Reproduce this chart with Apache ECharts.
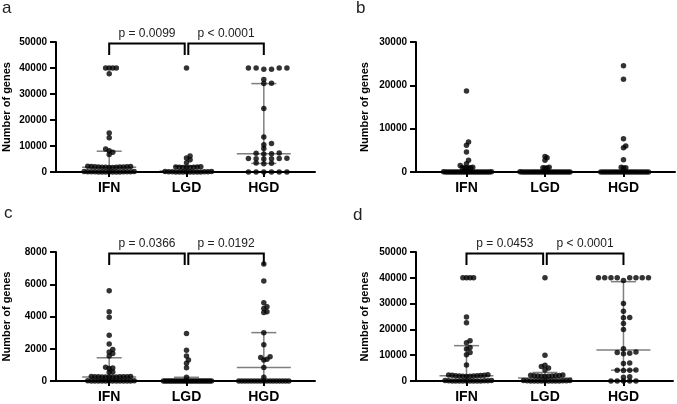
<!DOCTYPE html>
<html><head><meta charset="utf-8">
<script src="https://cdn.jsdelivr.net/npm/echarts@6/dist/echarts.min.js"></script>
<style>html,body{margin:0;padding:0;background:#fff}#c{width:677px;height:404px}</style>
</head><body><div id="c"></div>
<script>
// ---------- DATA ----------
const categories = ['IFN', 'LGD', 'HGD'];

// panel a
const aIFN = [40000,40000,40000,40000,37800,15000,13200,8800,8200,7600,6700,
  2200,2100,2100,2000,2000,1900,1900,1900,1800,1800,1800,1700,1700,
  200,200,100,100,100,100,50,50,0,0,0,0,0,0,0];
const aLGD = [40000,6200,5400,4700,3600,
  2000,1900,1900,1800,1800,1700,1700,1700,
  200,200,100,100,100,50,0,0,0,0,0,0,0,0];
const aHGD = [40000,40000,40000,40000,39500,39500,35600,34100,34000,24400,13500,11000,10500,9000,
  7300,7200,7000,6900,5300,5200,5200,5100,5100,5000,3500,3400,3200,0,0,0,0,0,0];
const aStats = [[200,1800,8000],[0,400,2200],[3300,7000,34000]]; // [q1, median, q3]
const aPvals = ['p = 0.0099', 'p < 0.0001'];

// panel b
const bIFN = [18700,6900,6200,4600,2700,1900,1500,1100,1000,1000,950,950,900,
  50,50,0,0,0,0,0,0,0,0,0,0,0,0,0,0,0,0,0,0,0,0,0,0];
const bLGD = [3600,3300,2700,1100,1000,950,900,50,
  0,0,0,0,0,0,0,0,0,0,0,0,0,0,0,0,0,0,0,0,0,0,0,0];
const bHGD = [24500,21400,7700,6000,5600,2850,1100,1000,900,
  0,0,0,0,0,0,0,0,0,0,0,0,0,0,0,0,0,0,0,0,0,0];
const bStats = [[0,0,300],[0,0,300],[0,0,300]];
const bPvals = [];

// panel c
const cIFN = [5600,4300,3950,2830,2300,1950,1800,1700,1550,850,800,780,560,550,
  280,280,270,270,260,260,260,250,250,250,250,250,
  10,10,0,0,0,0,0,0,0,0,0,0,0,0];
const cLGD = [2950,1900,1550,1300,1100,820,230,
  0,0,0,0,0,0,0,0,0,0,0,0,0,0,0,0,0,0,0,0,0,0,0,0,0,0];
const cHGD = [7250,6200,4850,4600,4500,4300,4250,3000,2250,1500,1450,1350,1300,830,230,
  0,0,0,0,0,0,0,0,0,0,0,0,0,0,0,0,0];
const cStats = [[40,250,1440],[0,0,230],[0,830,3000]];
const cPvals = ['p = 0.0366', 'p = 0.0192'];

// panel d
const dIFN = [40000,40000,40000,40000,24800,22600,15600,14800,13000,12400,11000,10200,6200,
  2400,2300,2200,2200,2100,2000,2000,1900,1900,1800,1800,1700,
  200,200,100,100,100,0,0,0,0,0,0,0,0,0];
const dLGD = [40000,10000,6100,5600,5000,4300,
  2300,2200,2100,2000,2000,1900,1900,1800,1800,1700,
  200,200,100,100,100,0,0,0,0,0,0,0,0,0];
const dHGD = [40000,40000,40000,40000,40000,40000,40000,40000,39000,30000,27000,24600,24500,22300,20000,
  12500,11200,11000,10800,10600,7000,6800,4300,4200,4200,4100,1600,1500,0,0,0,0,0];
const dStats = [[300,2000,13700],[100,1200,3300],[4200,12000,38500]];
const dPvals = ['p = 0.0453', 'p < 0.0001'];

// y axis ranges
const yMaxes = [50000, 30000, 8000, 50000];
const yIntervals = [10000, 10000, 2000, 10000];
const yTitle = 'Number of genes';
const panelLetters = ['a', 'b', 'c', 'd'];

// ---------- LAYOUT / STYLE ----------
const FONT = '"Liberation Sans", Arial, Helvetica, sans-serif';
const layout = [
  {grid:{left:52, top:42, width:263, height:130}, xMin:-0.688, xMax:2.662, nameGap:44, letter:{left:2, top:0}},
  {grid:{left:416, top:42, width:259, height:130}, xMin:-0.643, xMax:2.656, nameGap:46, letter:{left:356, top:0}},
  {grid:{left:52, top:252, width:263, height:130}, xMin:-0.688, xMax:2.662, nameGap:44, letter:{left:4, top:205}},
  {grid:{left:416, top:252, width:257, height:130}, xMin:-0.643, xMax:2.631, nameGap:46, letter:{left:353, top:207}}
];
const panels = [
  {groups:[aIFN,aLGD,aHGD], stats:aStats, pv:aPvals},
  {groups:[bIFN,bLGD,bHGD], stats:bStats, pv:bPvals},
  {groups:[cIFN,cLGD,cHGD], stats:cStats, pv:cPvals},
  {groups:[dIFN,dLGD,dHGD], stats:dStats, pv:dPvals}
];

const chart = echarts.init(document.getElementById('c'), null, {renderer:'canvas'});

function buildOption(offsets) {
  const opt = {animation:false, backgroundColor:'#fff', grid:[], xAxis:[], yAxis:[], series:[], title:[]};
  panels.forEach((p, i) => {
    const L = layout[i];
    opt.grid.push(Object.assign({containLabel:false}, L.grid));
    opt.title.push({text:panelLetters[i], left:L.letter.left, top:L.letter.top, padding:0,
      textStyle:{fontFamily:FONT, fontSize:17, fontWeight:'normal', color:'#222'}});
    opt.xAxis.push({type:'value', gridIndex:i, min:L.xMin, max:L.xMax, z:5,
      axisLine:{show:true, onZero:false, lineStyle:{color:'#000', width:2}},
      axisTick:{show:true, customValues:[0,1,2], length:5, lineStyle:{color:'#000', width:2}},
      axisLabel:{show:true, customValues:[0,1,2], formatter:v => categories[Math.round(v)],
        fontFamily:FONT, fontWeight:'bold', fontSize:14, color:'#000', margin:9},
      splitLine:{show:false}});
    opt.yAxis.push({type:'value', gridIndex:i, min:0, max:yMaxes[i], interval:yIntervals[i], z:5,
      axisLine:{show:true, onZero:false, lineStyle:{color:'#000', width:2}},
      axisTick:{show:true, length:6, lineStyle:{color:'#000', width:2}},
      axisLabel:{fontFamily:FONT, fontWeight:'bold', fontSize:10, color:'#000', margin:9,
        formatter:v => String(v)},
      splitLine:{show:false},
      name:yTitle, nameLocation:'middle', nameGap:L.nameGap,
      nameTextStyle:{fontFamily:FONT, fontWeight:'bold', fontSize:11, color:'#000'}});
    // median / IQR
    opt.series.push({type:'custom', xAxisIndex:i, yAxisIndex:i, z:2, silent:true, clip:false,
      data:p.stats.map((s, gi) => [gi, s[0], s[1], s[2]]),
      encode:{x:0, y:[1,2,3]},
      renderItem:(params, api) => {
        const x = api.value(0);
        const p1 = api.coord([x, api.value(1)]), pm = api.coord([x, api.value(2)]), p3 = api.coord([x, api.value(3)]);
        const st = {stroke:'#7f7f7f', lineWidth:1.5};
        return {type:'group', children:[
          {type:'line', shape:{x1:p1[0], y1:p1[1], x2:p3[0], y2:p3[1]}, style:st},
          {type:'line', shape:{x1:pm[0]-27, y1:pm[1], x2:pm[0]+27, y2:pm[1]}, style:st},
          {type:'line', shape:{x1:p1[0]-12.5, y1:p1[1], x2:p1[0]+12.5, y2:p1[1]}, style:st},
          {type:'line', shape:{x1:p3[0]-12.5, y1:p3[1], x2:p3[0]+12.5, y2:p3[1]}, style:st}
        ]};
      }});
    // points
    const data = [];
    p.groups.forEach((vals, gi) => vals.forEach((v, k) => {
      const off = offsets ? offsets[i][gi][k] : 0;
      data.push({value:[gi, v], symbolOffset:[off, 0]});
    }));
    opt.series.push({type:'scatter', xAxisIndex:i, yAxisIndex:i, z:3, silent:true,
      symbol:'circle', symbolSize:5.5, itemStyle:{color:'#000'}, data});
    // significance brackets
    if (p.pv.length) {
      const yMax = yMaxes[i];
      const pv = p.pv;
      opt.series.push({type:'custom', xAxisIndex:i, yAxisIndex:i, z:4, silent:true, clip:false,
        data:[[0,1],[1,2]].slice(0, pv.length),
        encode:{x:[0,1]},
        renderItem:(params, api) => {
          const i0 = api.value(0), i1 = api.value(1);
          const a = api.coord([i0, yMax]), b = api.coord([i1, yMax]);
          let x1 = a[0], x2 = b[0];
          if (i0 === 1) x1 += 1.8;
          if (i1 === 1) x2 -= 1.8;
          const top = a[1] + 1.6, bot = top + 11.5;
          return {type:'group', children:[
            {type:'polyline', shape:{points:[[x1,bot],[x1,top],[x2,top],[x2,bot]]},
              style:{stroke:'#000', lineWidth:2, fill:null}},
            {type:'text', style:{text:pv[params.dataIndex], x:(x1+x2)/2, y:top-10,
              align:'center', verticalAlign:'middle', fontSize:12, fontFamily:FONT, fill:'#222'}}
          ]};
        }});
    }
  });
  return opt;
}

// beeswarm-like placement on a slot grid (pixel offsets only)
function swarm(vals, toPy, half, sMax, thr) {
  const items = vals.map((v, i) => ({v, i, py:toPy(v)})).sort((a, b) => a.v - b.v);
  const placed = [];
  const slot = new Array(vals.length);
  let kmax = 0;
  for (const it of items) {
    for (let t = 0; ; t++) {
      const k = t === 0 ? 0 : (t % 2 ? (t + 1) / 2 : -t / 2);
      if (!placed.some(q => q.k === k && Math.abs(q.py - it.py) < thr)) {
        placed.push({k, py:it.py});
        slot[it.i] = k;
        kmax = Math.max(kmax, Math.abs(k));
        break;
      }
    }
  }
  const s = kmax ? Math.min(sMax, half / kmax) : 0;
  return slot.map(k => k * s);
}

chart.setOption(buildOption(null));
const offsets = panels.map((p, i) => p.groups.map((vals, gi) =>
  swarm(vals, v => chart.convertToPixel({gridIndex:i}, [gi, v])[1], 25, 7.7, 3.6)));
chart.setOption(buildOption(offsets), true);
</script>
</body></html>
